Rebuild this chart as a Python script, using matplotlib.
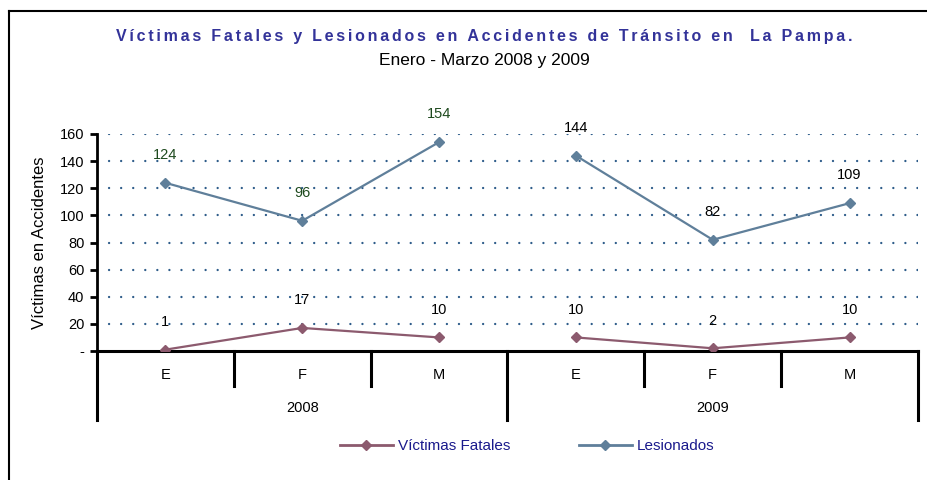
import numpy as np
import matplotlib
matplotlib.use("Agg")
import matplotlib.pyplot as plt
from matplotlib.lines import Line2D

# ── Data ──────────────────────────────────────────────────────────────
months = ["E", "F", "M", "E", "F", "M"]
years = ["2008", "2009"]
fatales = [1, 17, 10, 10, 2, 10]
lesionados = [124, 96, 154, 144, 82, 109]
yticks = [0, 20, 40, 60, 80, 100, 120, 140, 160]
ytick_labels = ["-", "20", "40", "60", "80", "100", "120", "140", "160"]

c_fat = "#8C5A6E"
c_les = "#5F7F9A"
c_grid = "#2E5C8A"
c_title = "#333399"
c_legend = "#1A1A8C"
narrow = ["Liberation Sans Narrow", "Liberation Sans", "DejaVu Sans"]
arial = ["Liberation Sans", "DejaVu Sans"]

W, H = 927, 480
fig = plt.figure(figsize=(W / 100, H / 100), dpi=100)
ax_l, ax_r, ax_b, ax_t = 97, 918, 351, 134
ax = fig.add_axes([ax_l / W, 1 - ax_b / H, (ax_r - ax_l) / W, (ax_b - ax_t) / H])
ax_h = ax_b - ax_t

x = np.arange(len(months))
ax.set_xlim(-0.5, 5.5)
ax.set_ylim(0, 160)

# dotted gridlines: tiny dashes with round caps -> dots every ~12 px
for v in yticks[1:]:
    ax.axhline(v, color=c_grid, lw=1.7, linestyle=(0, (0.01, 5.1)),
               dash_capstyle="round", zorder=1)

# lines are broken between years
for seg in (slice(0, 3), slice(3, 6)):
    ax.plot(x[seg], fatales[seg], color=c_fat, lw=1.6, marker="D", ms=5.5, zorder=3)
    ax.plot(x[seg], lesionados[seg], color=c_les, lw=1.6, marker="D", ms=5.5, zorder=3)

for i in range(len(x)):
    ax.annotate(str(fatales[i]), (x[i], fatales[i]), xytext=(0, 20), textcoords="offset points",
                ha="center", va="center", fontsize=10.5, family=narrow, color="black")
    col = "#1E4A1E" if i < 3 else "black"
    ax.annotate(str(lesionados[i]), (x[i], lesionados[i]), xytext=(0, 20), textcoords="offset points",
                ha="center", va="center", fontsize=10.5, family=narrow, color=col)

# axes styling
for s in ["top", "right", "bottom"]:
    ax.spines[s].set_visible(False)
ax.spines["left"].set_linewidth(2)
ax.axhline(0, color="black", lw=2.2, zorder=2, clip_on=False)
ax.set_yticks(yticks)
ax.set_yticklabels(ytick_labels, family=narrow, fontsize=10.5)
ax.tick_params(axis="y", direction="out", length=5, width=2, pad=4)
ax.set_xticks([])
ax.set_ylabel("Víctimas en Accidentes", family=narrow, fontsize=12, labelpad=9)

# category axis: month separators, year separators, labels
tr = ax.get_xaxis_transform()
y_month = -(386 - ax_b) / ax_h
y_year = -(420 - ax_b) / ax_h
for b in [0.5, 1.5, 3.5, 4.5]:
    ax.plot([b, b], [0, y_month], color="black", lw=2.2, transform=tr, clip_on=False)
for b in [-0.5, 2.5, 5.5]:
    ax.plot([b, b], [0, y_year], color="black", lw=2.2, transform=tr, clip_on=False)
for i, m in enumerate(months):
    ax.text(x[i], -(375 - ax_b) / ax_h, m, transform=tr, ha="center", va="center",
            fontsize=10.5, family=arial)
for j, yr in enumerate(years):
    ax.text(1 + 3 * j, -(408 - ax_b) / ax_h, yr, transform=tr, ha="center", va="center",
            fontsize=10.5, family=arial)

# titles
title = "Víctimas Fatales y Lesionados en Accidentes de Tránsito en  La Pampa."
spaced = "\u200a\u200a".join(title)
fig.text(484 / W, 1 - 37 / H, spaced, ha="center", va="center", fontsize=11.5,
         fontweight="bold", color=c_title, family=arial)
fig.text(484 / W, 1 - 60 / H, "Enero - Marzo 2008 y 2009", ha="center", va="center",
         fontsize=12.5, family=narrow)

# legend
handles = [Line2D([], [], color=c_fat, lw=2, marker="D", ms=5.5),
           Line2D([], [], color=c_les, lw=2, marker="D", ms=5.5)]
leg = fig.legend(handles, ["Víctimas Fatales", "Lesionados"], loc="center",
                 bbox_to_anchor=(527 / W, 1 - 446 / H), ncol=2, frameon=False,
                 handlelength=3.5, handletextpad=0.3, columnspacing=4.5,
                 prop={"family": arial, "size": 11})
for t in leg.get_texts():
    t.set_color(c_legend)

# outer frame (only top and left visible)
fig.add_artist(Line2D([9 / W, 9 / W], [0, 1 - 11 / H], color="black", lw=1.5, transform=fig.transFigure))
fig.add_artist(Line2D([9 / W, 1], [1 - 11 / H, 1 - 11 / H], color="black", lw=1.5, transform=fig.transFigure))

fig.savefig("out.png", dpi=100)
